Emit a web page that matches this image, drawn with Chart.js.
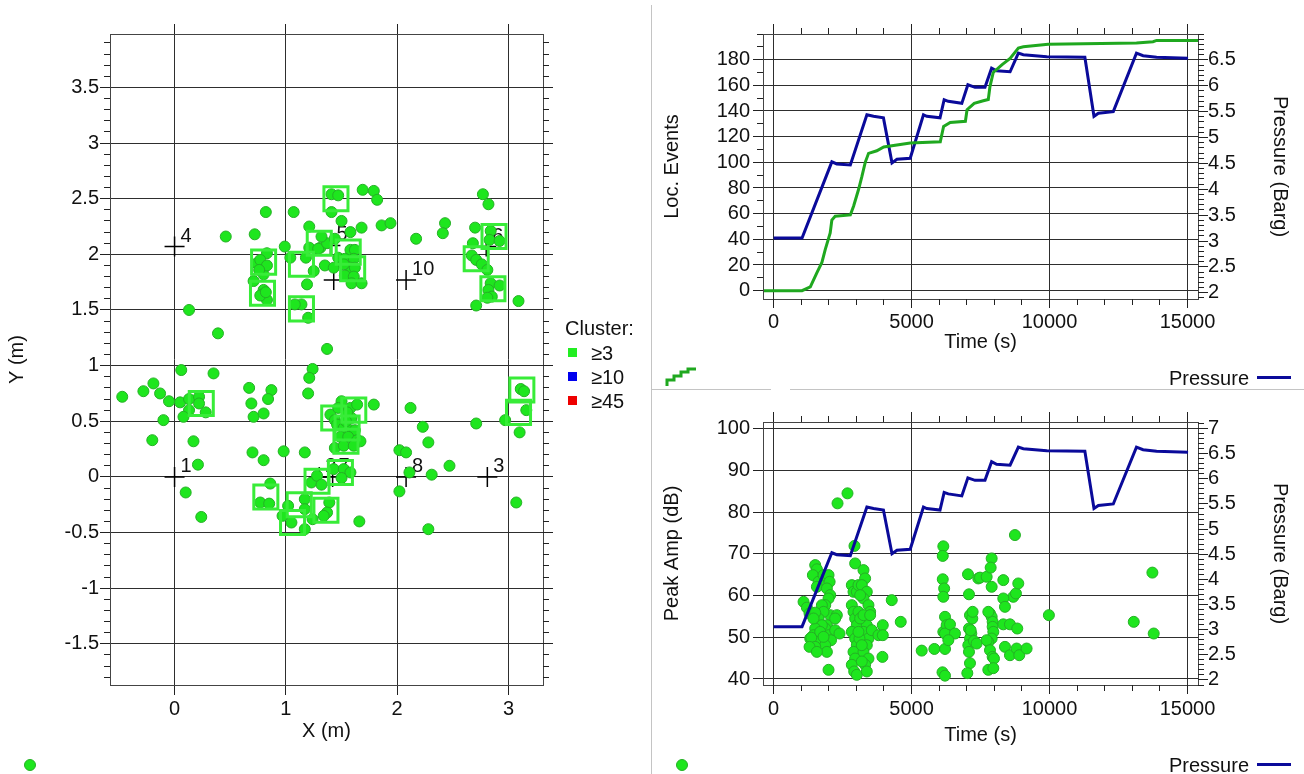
<!DOCTYPE html>
<html>
<head>
<meta charset="utf-8">
<script src="https://cdn.jsdelivr.net/npm/chart.js@4.4.1/dist/chart.umd.min.js"></script>
<style>
  html, body { margin: 0; padding: 0; background: #fff; }
  body { width: 1304px; height: 774px; position: relative; overflow: hidden;
         font-family: "Liberation Sans", Arial, sans-serif; color: #111; }
  canvas { position: absolute; }
  .txt { position: absolute; font-size: 20px; line-height: 20px; white-space: nowrap; }
  .sq { position: absolute; width: 9px; height: 9px; }
  .dot { position: absolute; width: 10px; height: 10px; border-radius: 50%;
         background: #1ee61e; border: 1px solid #25b025; }
  .sep { position: absolute; background: #c4c4c4; }
  .pline { position: absolute; height: 3px; background: #0a0a9a; }
</style>
</head>
<body>
<canvas id="map" width="652" height="774" style="left:0;top:0"></canvas>
<canvas id="events" width="652" height="388" style="left:652px;top:0"></canvas>
<canvas id="amp" width="652" height="386" style="left:652px;top:388px"></canvas>

<!-- panel separators -->
<div class="sep" style="left:651px;top:5px;width:1px;height:769px"></div>
<div class="sep" style="left:651px;top:389px;width:120px;height:1px"></div>
<div class="sep" style="left:790px;top:389px;width:514px;height:1px"></div>

<!-- cluster legend -->
<div class="txt" style="left:565px;top:318px">Cluster:</div>
<div class="sq" style="left:568px;top:348px;background:#22ee22"></div>
<div class="txt" style="left:591px;top:343px">&ge;3</div>
<div class="sq" style="left:568px;top:372px;background:#0000ee"></div>
<div class="txt" style="left:591px;top:367px">&ge;10</div>
<div class="sq" style="left:568px;top:396px;background:#ee0000"></div>
<div class="txt" style="left:591px;top:391px">&ge;45</div>

<!-- bottom legends -->
<div class="dot" style="left:24px;top:759px"></div>
<svg style="position:absolute;left:664px;top:364px" width="34" height="24">
  <polyline points="3,22 3,16 10,16 10,12 17,12 17,8 24,8 24,5 32,5" fill="none" stroke="#1fa81f" stroke-width="3"/>
</svg>
<div class="txt" style="left:1169px;top:368px">Pressure</div>
<div class="pline" style="left:1257px;top:376px;width:34px"></div>
<div class="dot" style="left:676px;top:759px"></div>
<div class="txt" style="left:1169px;top:755px">Pressure</div>
<div class="pline" style="left:1257px;top:763px;width:34px"></div>

<script>
// ---- location map (X/Y in metres) ----
const evX = [0.82, 1.07, 0.46, 0.72, 0.99, 1.21, 1.21, 1.31, 1.04, 1.18, 1.25, 1.19, 1.35, 0.83, 0.74, 0.80, 0.80, 0.71,
  0.80, 0.79, 0.83, 1.14, 1.20, 1.08, 0.13, 0.39, 1.37, 0.77, 0.83, 0.76, 0.77, 0.82,
  1.41, 1.47, 1.41, 1.69, 1.79, 1.82, 1.50, 1.58, 1.68, 1.86, 1.94, 2.17, 2.43, 2.41, 2.77, 2.82, 2.70, 2.84, 2.83, 2.92,
  2.68, 2.67, 2.71, 2.76, 2.81, 2.84, 2.82, 2.92, 2.85, 2.81, 2.71, 3.09, 1.29, 1.37, 1.32, 1.44, 1.43, 1.47, 1.58, 1.53,
  1.62, 1.61, 1.58, 1.62, 1.52, 1.53, 1.61, 1.59, 1.68,
  1.24, 1.21, 1.20, 0.67, 0.87, -0.47, -0.28, -0.19, -0.13, -0.05, 0.06, 0.35, -0.10, -0.20, 0.05, 0.13, 0.13, 0.08,
  0.22, 0.22, 0.28, 0.17, 0.21, 0.10, 0.24, 0.84, 0.69, 0.71, 0.80, 0.70, 0.80, 0.98, 1.17, 0.86, 0.77, 0.85, 1.02,
  0.97, 1.05, 1.17, 1.17, 1.17, 1.23, 1.28, 1.24,
  1.40, 1.44, 1.46, 1.50, 1.58, 1.64, 1.59, 1.52, 1.58, 1.62, 1.49, 1.56, 1.64, 1.67, 1.44, 1.52, 1.61, 1.55, 1.47, 1.54,
  1.79, 2.12, 2.23, 2.28, 2.02, 2.08, 2.11, 2.31, 2.47, 2.02, 2.28, 1.66, 2.71, 2.97, 3.10, 3.07, 3.11, 3.14, 3.16,
  1.43, 1.52, 1.58, 1.32, 1.50, 1.39, 1.37, 1.34];
const evY = [2.38, 2.38, 2.16, 2.18, 2.07, 2.25, 2.06, 2.06, 1.97, 1.97, 1.85, 1.73, 1.90, 2.01, 1.92, 1.88, 1.82, 1.76,
  1.68, 1.64, 1.59, 1.55, 1.43, 1.55, 1.50, 1.29, 1.15, 1.95, 1.90, 1.86, 1.63, 1.66,
  2.54, 2.53, 2.38, 2.58, 2.57, 2.49, 2.30, 2.20, 2.24, 2.26, 2.28, 2.14, 2.28, 2.19, 2.54, 2.45, 2.24, 2.21, 2.13, 2.12,
  2.10, 1.99, 1.95, 1.91, 1.86, 1.74, 1.68, 1.72, 1.62, 1.61, 1.54, 1.58, 2.05, 2.10, 2.16, 2.14, 1.88, 1.97, 2.04, 1.96,
  2.04, 1.96, 1.88, 1.88, 1.91, 1.81, 1.80, 1.74, 1.74,
  0.97, 0.89, 0.75, 0.80, 0.78, 0.72, 0.77, 0.84, 0.75, 0.68, 0.96, 0.93, 0.51, 0.33, 0.67, 0.70, 0.60, 0.54,
  0.72, 0.66, 0.58, 0.32, 0.11, -0.14, -0.36, 0.70, 0.66, 0.54, 0.57, 0.22, 0.15, 0.23, 0.22, -0.06, -0.23, -0.24, -0.26,
  -0.35, -0.41, -0.47, -0.20, -0.29, -0.05, 0.01, -0.38,
  0.56, 0.51, 0.47, 0.68, 0.62, 0.65, 0.53, 0.44, 0.42, 0.42, 0.36, 0.36, 0.33, 0.32, 0.26, 0.28, 0.28, 0.58, 0.62, 0.50,
  0.65, 0.62, 0.45, 0.31, 0.24, 0.22, 0.04, 0.02, 0.10, -0.13, -0.47, -0.40, 0.48, 0.51, 0.40, -0.23, 0.79, 0.77, 0.60,
  0.07, 0.07, 0.04, -0.07, -0.01, -0.23, -0.32, -0.35];

const boxX = [0.80, 0.79, 1.14, 1.14, 1.30, 1.45, 1.56, 1.60, 2.87, 2.71, 2.86, 0.24, 0.82, 1.06, 1.12, 1.28, 1.36,
  1.49, 1.43, 1.61, 1.54, 1.55, 3.12, 3.09];
const boxY = [1.93, 1.65, 1.91, 1.51, 2.10, 2.50, 2.02, 1.87, 2.16, 1.96, 1.69, 0.66, -0.18, -0.41, -0.25, -0.04, -0.30,
  0.04, 0.53, 0.60, 0.32, 0.44, 0.78, 0.58];

const sensorX = [0, 1.30, 2.81, 0, 1.40, 2.80, 1.42, 2.08, 1.43, 2.08];
const sensorY = [0, 0, 0, 2.07, 2.08, 2.07, 0, 0, 1.77, 1.77];
const sensorNames = ['1', '2', '3', '4', '5', '6', '7', '8', '', '10'];

const mapXTicks = [0, 1, 2, 3];
const mapYTicks = [-1.5, -1, -0.5, 0, 0.5, 1, 1.5, 2, 2.5, 3, 3.5];

// ---- time histories ----
const locT = [-385, 1030, 1330, 1570, 1750, 1870, 2050, 2110, 2230, 2780, 2900, 3080, 3200, 3320, 3440, 3740, 3990,
  4950, 6040, 6160, 6400, 6950, 7010, 7270, 7600, 7780, 7840, 7960, 8270, 8570, 8870, 9050, 9950, 13150, 13750, 13880, 15380];
const locN = [0, 0, 3, 14, 22, 32, 45, 55, 58, 59, 66, 79, 89, 100, 107, 109, 112,
  115, 116, 128, 131, 132, 141, 146, 148, 149, 159, 170, 176, 181, 189, 190, 192, 193, 194, 195, 195];

const presT = [0, 1030, 2110, 2290, 2780, 3380, 3620, 3980, 4290, 4470, 4950, 5430, 5550, 6030, 6180, 6330, 6820,
  7040, 7300, 7660, 7900, 8080, 8570, 8870, 9050, 9900, 11280, 11610, 11770, 12310, 13150, 13390, 13880, 15020];
const presP = [3.06, 3.06, 4.53, 4.49, 4.47, 5.44, 5.41, 5.38, 4.51, 4.58, 4.60, 5.44, 5.41, 5.38, 5.73, 5.70, 5.66,
  6.02, 5.97, 5.97, 6.34, 6.29, 6.27, 6.63, 6.60, 6.56, 6.55, 5.41, 5.47, 5.50, 6.63, 6.58, 6.55, 6.53];

const ampT = [2316, 2677, 2930, 1085, 1206, 1302, 1507, 1568, 1423, 1628, 1568, 1809, 1930,
  1990, 2030, 1930, 2050, 1990, 1870, 2050, 1930, 1870, 1990, 2080,
  1749, 1809, 1628, 1749, 1507, 1447, 1327, 1568, 1869, 1930, 1990, 1507, 1447,
  1363, 1507, 1302, 1568, 1688, 1809, 2231, 2388, 2291, 2231, 2955,
  2834, 2895, 3015, 3075, 2834, 2895, 2955, 3015, 2834, 2955, 3015, 2895, 2955, 2834, 2920, 3015,
  3256, 3316, 3196, 3377, 3256, 3437, 3498, 3316, 3377, 3256, 3437, 3377, 3256, 3437, 3316, 3377,
  3136, 3075, 3136, 3111, 3256, 3075, 3196, 3196,
  3498, 3558, 3799, 3956, 3956, 3943, 4281, 4607, 5367, 5825,
  6150, 6130, 6130, 6180, 6150, 6211, 6150, 6211, 6120, 6211, 6271, 6211, 6392, 6572, 6332,
  7044, 7080, 7116, 7080, 7164, 7116, 7056, 7080, 7116, 7020, 7200, 7140, 7212, 7260, 7417, 7357,
  8746, 7480, 7721, 7902, 7866, 7902, 8324, 8686, 8782, 8867, 8324, 8384,
  7841, 7902, 7938, 7938, 7962, 7902, 7781, 7781, 7721, 8324, 8565, 8830,
  7841, 7938, 7986, 8384, 8565, 8806, 8903, 9168, 7781, 7962, 9976, 13052, 13727, 13775];
const ampDb = [82.1, 84.5, 71.9, 58.5, 57.1, 55.7, 67.3, 66.3, 64.9, 63.3, 62.1, 64.9, 64.5,
  64.9, 63.3, 61.7, 60.1, 59.3, 57.7, 55.3, 52.9, 52.1, 50.5, 49.3,
  57.7, 56.1, 54.5, 52.9, 52.1, 50.5, 49.7, 48.9, 48.1, 46.5, 42.2, 55.9, 54.5,
  49.9, 47.7, 47.7, 46.5, 51.3, 50.1, 51.7, 50.9, 55.3, 54.5, 67.7,
  62.5, 60.9, 60.9, 62.5, 57.7, 56.1, 54.5, 52.9, 51.3, 49.7, 48.1, 46.5, 44.9, 43.4, 41.8, 41.0,
  66.1, 64.1, 62.5, 60.9, 59.3, 57.7, 56.1, 54.5, 52.9, 51.3, 49.7, 48.1, 46.5, 44.9, 43.4, 41.8,
  60.1, 56.1, 54.5, 49.7, 55.3, 51.3, 48.1, 44.2,
  55.3, 51.7, 50.5, 52.9, 50.5, 45.3, 58.9, 53.7, 46.8, 47.2,
  71.8, 69.5, 63.9, 61.7, 59.7, 54.9, 51.3, 47.2, 41.6, 40.8, 52.9, 50.9, 53.1, 50.9, 49.3,
  65.1, 60.3, 55.3, 52.1, 50.9, 49.7, 48.1, 46.5, 43.8, 41.4, 54.5, 51.7, 56.1, 49.1, 64.1, 48.5,
  74.5, 64.3, 64.5, 68.9, 66.7, 62.1, 63.7, 59.7, 60.5, 62.9, 59.3, 57.3,
  55.7, 54.9, 53.7, 52.5, 51.3, 49.7, 56.1, 48.9, 49.3, 53.1, 53.1, 52.1,
  46.9, 45.3, 44.9, 47.7, 45.7, 47.3, 45.7, 47.3, 42.2, 42.6, 55.3, 53.7, 65.5, 50.9];

const timeTicks = [0, 5000, 10000, 15000];
const locTicks = [0, 20, 40, 60, 80, 100, 120, 140, 160, 180];
const presTicksTop = [2, 2.5, 3, 3.5, 4, 4.5, 5, 5.5, 6, 6.5];
const ampTicks = [40, 50, 60, 70, 80, 90, 100];
const presTicksBottom = [2, 2.5, 3, 3.5, 4, 4.5, 5, 5.5, 6, 6.5, 7];

Chart.defaults.font.family = '"Liberation Sans", Arial, sans-serif';
Chart.defaults.font.size = 20;
Chart.defaults.color = '#111';
Chart.defaults.animation = false;
Chart.defaults.plugins.legend.display = false;
Chart.defaults.plugins.tooltip.enabled = false;

const GRID = '#2e2e2e';
const PT_FILL = '#1ee61e';
const PT_EDGE = '#25b025';

function pairs(xs, ys) {
  return xs.map((x, i) => ({ x: x, y: ys[i] }));
}

// scale with fixed tick list and forced box size
function axis(o) {
  const horiz = o.position === 'bottom';
  return {
    type: 'linear',
    position: o.position,
    min: o.min,
    max: o.max,
    afterBuildTicks: s => { s.ticks = o.ticks.map(v => ({ value: v })); },
    afterFit: s => { if (horiz) s.height = o.size; else s.width = o.size; },
    border: { display: false },
    grid: {
      drawOnChartArea: o.grid !== false,
      color: GRID, lineWidth: 1,
      tickColor: '#222', tickLength: o.tickLength || 10
    },
    ticks: { padding: o.pad, maxRotation: 0, autoSkip: false, callback: v => String(v) },
    title: { display: true, text: o.title, padding: o.titlePad }
  };
}

// plot frame plus mirrored / minor tick marks
const frameTicks = {
  id: 'frameTicks',
  afterDraw(chart, args, opts) {
    const ctx = chart.ctx;
    const a = chart.chartArea;
    const al = p => Math.round(p - 0.5) + 0.5;
    ctx.save();
    ctx.lineWidth = 1;
    ctx.strokeStyle = '#444';
    ctx.strokeRect(al(a.left), al(a.top), al(a.right) - al(a.left), al(a.bottom) - al(a.top));
    ctx.strokeStyle = '#222';
    (opts.marks || []).forEach(m => {
      const s = chart.scales[m.scale];
      const i0 = Math.ceil(s.min / m.step - 1e-6);
      const i1 = Math.floor(s.max / m.step + 1e-6);
      ctx.beginPath();
      for (let i = i0; i <= i1; i++) {
        const p = al(s.getPixelForValue(i * m.step));
        if (m.side === 'left') { ctx.moveTo(a.left - m.len, p); ctx.lineTo(a.left, p); }
        if (m.side === 'right') { ctx.moveTo(a.right, p); ctx.lineTo(a.right + m.len, p); }
        if (m.side === 'top') { ctx.moveTo(p, a.top - m.len); ctx.lineTo(p, a.top); }
        if (m.side === 'bottom') { ctx.moveTo(p, a.bottom); ctx.lineTo(p, a.bottom + m.len); }
      }
      ctx.stroke();
    });
    ctx.restore();
  }
};

// sensor numbers, drawn under the event dots
const sensorLabels = {
  id: 'sensorLabels',
  beforeDatasetsDraw(chart) {
    const idx = chart.data.datasets.findIndex(d => d.sensorNames);
    if (idx < 0) return;
    const names = chart.data.datasets[idx].sensorNames;
    const ctx = chart.ctx;
    ctx.save();
    ctx.font = '20px "Liberation Sans", Arial, sans-serif';
    ctx.fillStyle = '#111';
    ctx.textBaseline = 'alphabetic';
    chart.getDatasetMeta(idx).data.forEach((pt, i) => ctx.fillText(names[i], pt.x + 6, pt.y - 5));
    ctx.restore();
  }
};

new Chart(document.getElementById('map'), {
  type: 'scatter',
  data: {
    datasets: [
      { label: 'Cluster', data: pairs(boxX, boxY), pointStyle: 'rect', pointRadius: 17, pointBorderWidth: 3,
        borderColor: '#38ec38', backgroundColor: 'rgba(0,0,0,0)' },
      { label: 'Events', data: pairs(evX, evY), pointRadius: 5.5, pointBorderWidth: 1,
        borderColor: PT_EDGE, backgroundColor: PT_FILL },
      { label: 'Sensors', data: pairs(sensorX, sensorY), pointStyle: 'cross', pointRadius: 10, pointBorderWidth: 1.5,
        borderColor: '#000', backgroundColor: '#000', sensorNames: sensorNames }
    ]
  },
  options: {
    responsive: false,
    layout: { padding: { top: 34, right: 109, bottom: 29, left: 0 } },
    scales: {
      x: axis({ position: 'bottom', min: -0.58, max: 3.31, ticks: mapXTicks, size: 60, pad: 2,
        title: 'X (m)', titlePad: { top: 0, bottom: 2 } }),
      y: axis({ position: 'left', min: -1.87, max: 3.98, ticks: mapYTicks, size: 110, pad: 1,
        title: 'Y (m)', titlePad: { top: 5, bottom: 0 } })
    },
    plugins: {
      frameTicks: { marks: [
        { scale: 'y', side: 'left', step: 0.1, len: 6 },
        { scale: 'y', side: 'right', step: 0.1, len: 6 },
        { scale: 'y', side: 'right', step: 0.5, len: 10 },
        { scale: 'x', side: 'top', step: 1, len: 10 }
      ] }
    }
  },
  plugins: [frameTicks, sensorLabels]
});

new Chart(document.getElementById('events'), {
  type: 'scatter',
  data: {
    datasets: [
      { label: 'Loc. Events', data: pairs(locT, locN), yAxisID: 'y', showLine: true, pointRadius: 0,
        borderColor: '#1fa81f', borderWidth: 3 },
      { label: 'Pressure', data: pairs(presT, presP), yAxisID: 'y2', showLine: true, pointRadius: 0,
        borderColor: '#0a0a9a', borderWidth: 3 }
    ]
  },
  options: {
    responsive: false,
    layout: { padding: { top: 34, right: 0, bottom: 29, left: 0 } },
    scales: {
      x: axis({ position: 'bottom', min: -385, max: 15380, ticks: timeTicks, size: 60, pad: 2, tickLength: 9,
        title: 'Time (s)', titlePad: { top: 0, bottom: 5 } }),
      y: axis({ position: 'left', min: -6.5, max: 200, ticks: locTicks, size: 111, pad: 3,
        title: 'Loc. Events', titlePad: { top: 8, bottom: 0 } }),
      y2: axis({ position: 'right', min: 1.88, max: 7.0, ticks: presTicksTop, size: 106, pad: 0, grid: false,
        title: 'Pressure (Barg)', titlePad: { top: 12, bottom: 0 } })
    },
    plugins: {
      frameTicks: { marks: [
        { scale: 'x', side: 'top', step: 5000, len: 10 },
        { scale: 'x', side: 'top', step: 1000, len: 6 },
        { scale: 'x', side: 'bottom', step: 1000, len: 6 },
        { scale: 'y', side: 'left', step: 10, len: 6 },
        { scale: 'y2', side: 'right', step: 0.1, len: 6 }
      ] }
    }
  },
  plugins: [frameTicks]
});

new Chart(document.getElementById('amp'), {
  type: 'scatter',
  data: {
    datasets: [
      { label: 'Pressure', data: pairs(presT, presP), yAxisID: 'y2', showLine: true, pointRadius: 0,
        borderColor: '#0a0a9a', borderWidth: 3 },
      { label: 'Peak Amp', data: pairs(ampT, ampDb), yAxisID: 'y', pointRadius: 5.5, pointBorderWidth: 1,
        borderColor: PT_EDGE, backgroundColor: PT_FILL }
    ]
  },
  options: {
    responsive: false,
    layout: { padding: { top: 34, right: 0, bottom: 27, left: 0 } },
    scales: {
      x: axis({ position: 'bottom', min: -385, max: 15380, ticks: timeTicks, size: 62, pad: 3, tickLength: 9,
        title: 'Time (s)', titlePad: { top: 0, bottom: 0 } }),
      y: axis({ position: 'left', min: 38.56, max: 101.6, ticks: ampTicks, size: 111, pad: 3,
        title: 'Peak Amp (dB)', titlePad: { top: 8, bottom: 0 } }),
      y2: axis({ position: 'right', min: 1.90, max: 7.13, ticks: presTicksBottom, size: 106, pad: 0, grid: false,
        title: 'Pressure (Barg)', titlePad: { top: 12, bottom: 0 } })
    },
    plugins: {
      frameTicks: { marks: [
        { scale: 'x', side: 'top', step: 5000, len: 10 },
        { scale: 'x', side: 'top', step: 1000, len: 6 },
        { scale: 'x', side: 'bottom', step: 1000, len: 6 },
        { scale: 'y2', side: 'right', step: 0.1, len: 6 }
      ] }
    }
  },
  plugins: [frameTicks]
});
</script>
</body>
</html>
